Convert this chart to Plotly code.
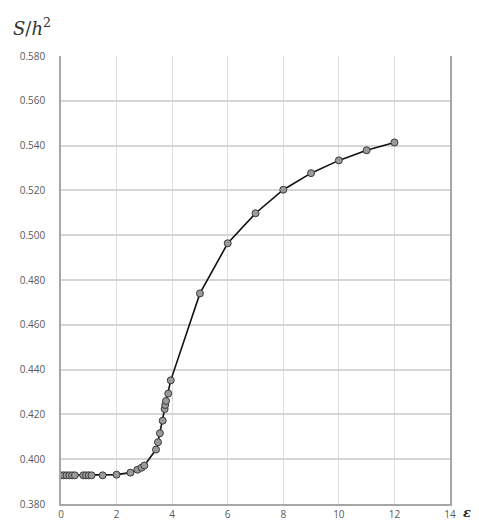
import plotly.graph_objects as go

strain = [0, 0.1, 0.2, 0.3, 0.4, 0.5, 0.8, 0.9, 1.0, 1.1, 1.5, 2.0, 2.5, 2.75, 2.9, 3.0,
          3.42, 3.49, 3.56, 3.66, 3.73, 3.75, 3.78, 3.86, 3.95,
          5, 6, 7, 8, 9, 10, 11, 12]
s_h2 = [0.3928, 0.3928, 0.3928, 0.3928, 0.3928, 0.3928, 0.3928, 0.3928, 0.3928, 0.3928,
        0.3928, 0.3931, 0.3940, 0.3953, 0.3962, 0.3972,
        0.4043, 0.4076, 0.4116, 0.4172, 0.4224, 0.4242, 0.4260, 0.4293, 0.4352,
        0.4740, 0.4964, 0.5098, 0.5203, 0.5277, 0.5334, 0.5379, 0.5414]

x_ticks = [0, 2, 4, 6, 8, 10, 12, 14]
y_ticks = [0.380, 0.400, 0.420, 0.440, 0.460, 0.480, 0.500, 0.520, 0.540, 0.560, 0.580]

fig = go.Figure()
fig.add_trace(go.Scatter(
    x=strain, y=s_h2, mode="lines+markers",
    line=dict(color="#111111", width=1.6),
    marker=dict(size=7, color="#9a9a9a", line=dict(color="#3a3a3a", width=1)),
    showlegend=False,
))

tick_font = dict(family="Open Sans, Liberation Sans, sans-serif", size=10, color="#595959")

fig.update_layout(
    width=479, height=521,
    margin=dict(l=53, r=37, t=48, b=25),
    paper_bgcolor="white", plot_bgcolor="white",
    xaxis=dict(range=[0, 14], tickvals=x_ticks, ticktext=[str(v) for v in x_ticks],
               showgrid=True, gridcolor="#dcdcdc", gridwidth=1,
               showline=True, linecolor="#a6a6a6", linewidth=1.5,
               zeroline=False, ticks="", tickfont=tick_font, automargin=False),
    yaxis=dict(range=[0.380, 0.580], tickvals=y_ticks,
               ticktext=[f"{v:.3f}" for v in y_ticks],
               showgrid=True, gridcolor="#d6d6d6", gridwidth=2.2,
               showline=True, linecolor="#a6a6a6", linewidth=1.5, mirror=True,
               zeroline=False, ticks="", tickfont=tick_font, automargin=False,
               ticklabelstandoff=12),
    annotations=[
        dict(text="<i>S</i>/<i>h</i><sup>2</sup>", xref="paper", yref="paper",
             x=-0.128, y=1.033, xanchor="left", yanchor="bottom", showarrow=False,
             font=dict(family="DejaVu Serif, serif", size=18, color="#333333")),
        dict(text="<b><i>ε</i></b>", xref="paper", yref="paper",
             x=1.058, y=-0.02, xanchor="right", yanchor="middle", showarrow=False,
             font=dict(family="DejaVu Serif, serif", size=13, color="#222222")),
    ],
)

fig.write_html("out.html")
